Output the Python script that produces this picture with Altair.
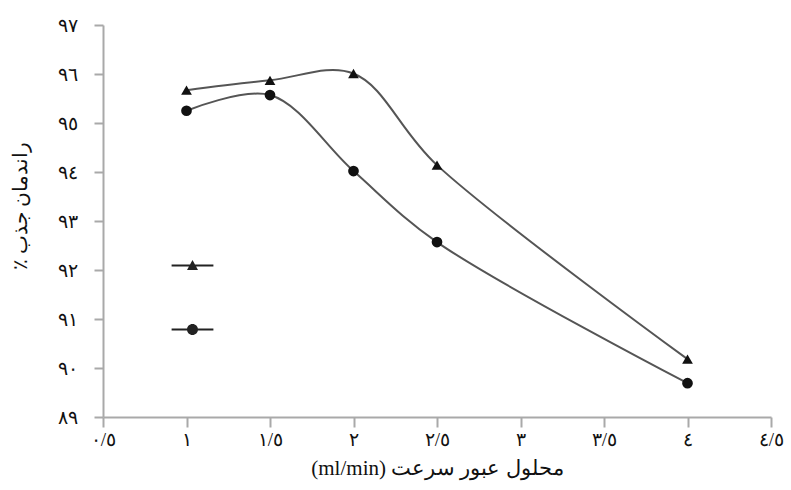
import altair as alt
import pandas as pd

# ---- data ----
flow_rate = [1.0, 1.5, 2.0, 2.5, 4.0]
series_a = [95.67, 95.87, 96.01, 94.14, 90.18]   # triangles
series_b = [95.25, 95.57, 94.02, 92.57, 89.69]   # circles
series_names = ["A", "B"]

x_tick_values = [0.5, 1.0, 1.5, 2.0, 2.5, 3.0, 3.5, 4.0, 4.5]
x_tick_labels = ["٠/٥", "١", "١/٥", "٢", "٢/٥", "٣", "٣/٥", "٤", "٤/٥"]
y_tick_values = [89, 90, 91, 92, 93, 94, 95, 96, 97]
y_tick_labels = ["٨٩", "٩٠", "٩١", "٩٢", "٩٣", "٩٤", "٩٥", "٩٦", "٩٧"]

LRE, PDF, LRM = "\u202a", "\u202c", "\u200e"
x_title = LRE + "(ml/min) سرعت" + LRM + " " + LRM + "عبور" + LRM + " " + LRM + "محلول" + PDF
y_title = "\u200fراندمان جذب ٪\u200f"

rows = []
for x, a, b in zip(flow_rate, series_a, series_b):
    rows.append({"x": x, "y": a, "s": series_names[0]})
    rows.append({"x": x, "y": b, "s": series_names[1]})
df = pd.DataFrame(rows)


def label_expr(values, labels):
    v = ",".join(str(t) for t in values)
    l = ",".join("'" + t + "'" for t in labels)
    return f"[{l}][indexof([{v}], datum.value)]"


font = "Liberation Serif"
axis_col = "#a9a9a9"

x_enc = alt.X(
    "x:Q",
    scale=alt.Scale(domain=[0.5, 4.5], nice=False, zero=False),
    axis=alt.Axis(
        values=x_tick_values,
        labelExpr=label_expr(x_tick_values, x_tick_labels),
        title=x_title,
        grid=False,
        domainColor=axis_col,
        domainWidth=2,
        tickColor=axis_col,
        tickWidth=2,
        tickSize=10,
        labelPadding=3,
        labelFontSize=19,
        labelColor="#111",
        labelFont=font,
        labelFlush=False,
        labelOverlap=False,
        titleFont=font,
        titleFontSize=21,
        titleFontWeight="normal",
        titleColor="#111",
        titlePadding=8,
    ),
)
y_enc = alt.Y(
    "y:Q",
    scale=alt.Scale(domain=[89, 97], nice=False, zero=False),
    axis=alt.Axis(
        values=y_tick_values,
        labelExpr=label_expr(y_tick_values, y_tick_labels),
        title=y_title,
        grid=False,
        domainColor=axis_col,
        domainWidth=2,
        tickColor=axis_col,
        tickWidth=2,
        tickSize=9,
        labelPadding=17,
        labelFontSize=19,
        labelColor="#111",
        labelFont=font,
        labelFlush=False,
        labelOverlap=False,
        titleFont=font,
        titleFontSize=20,
        titleFontWeight="normal",
        titleColor="#111",
        titleX=-73,
        titleY=180,
    ),
)

lines = alt.Chart(df).mark_line(
    interpolate="catmull-rom", color="#555555", strokeWidth=2
).encode(x=x_enc, y=y_enc, detail="s:N")

points = alt.Chart(df).mark_point(filled=True, color="#111111", opacity=1, size=115).encode(
    x="x:Q",
    y="y:Q",
    shape=alt.Shape(
        "s:N",
        scale=alt.Scale(domain=series_names, range=["triangle-up", "circle"]),
        legend=None,
    ),
)

tri_path = "M-3.8,-0.18H3.8V0.18H-3.8Z M0,-1L1,0.8L-1,0.8Z"
circ_path = "M-3.8,-0.18H3.8V0.18H-3.8Z M-1,0A1,1,0,1,1,1,0A1,1,0,1,1,-1,0Z"

legend_layer = alt.Chart(df).transform_filter("datum.x < 0").mark_point(
    filled=True, color="#222222", opacity=1
).encode(
    x="x:Q",
    y="y:Q",
    shape=alt.Shape(
        "s:N",
        scale=alt.Scale(domain=series_names, range=[tri_path, circ_path]),
        legend=alt.Legend(
            title=None,
            orient="none",
            legendX=83,
            legendY=234,
            labelExpr="''",
            symbolSize=121,
            rowPadding=48,
            labelFontSize=1,
        ),
    ),
)

chart = (
    alt.layer(lines, points, legend_layer)
    .resolve_scale(shape="independent")
    .properties(
        width=668,
        height=392,
        padding={"left": 103, "top": 25, "right": 20, "bottom": 73},
        autosize=alt.AutoSizeParams(type="none"),
        background="white",
    )
    .configure_view(stroke=None)
)

chart.save("out.html", embed_options={"renderer": "svg", "actions": False})
